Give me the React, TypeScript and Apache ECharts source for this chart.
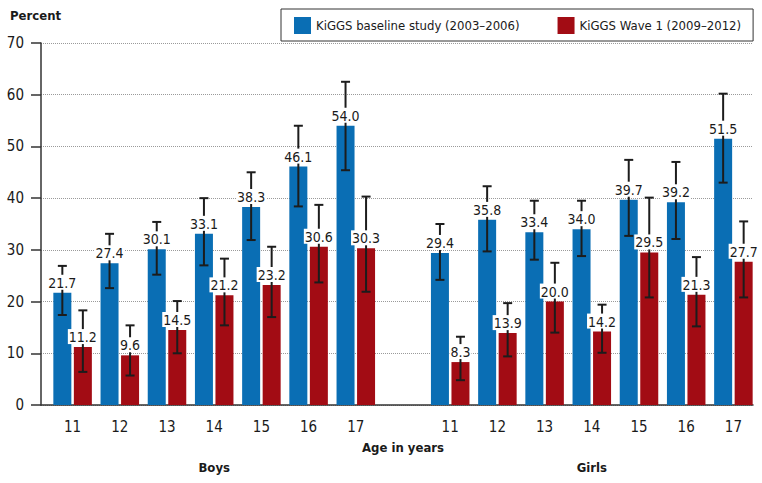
import React, { useEffect, useRef } from "react";
import * as echarts from "echarts";

const ages = ["11", "12", "13", "14", "15", "16", "17"];
const groups = ["Boys", "Girls"];
const seriesNames = ["KiGGS baseline study (2003–2006)", "KiGGS Wave 1 (2009–2012)"];

const baselineBoys = [21.7, 27.4, 30.1, 33.1, 38.3, 46.1, 54.0];
const baselineBoysLow = [17.4, 22.6, 25.2, 27.0, 31.9, 38.4, 45.4];
const baselineBoysHigh = [26.9, 33.1, 35.4, 40.0, 45.0, 54.0, 62.5];
const baselineGirls = [29.4, 35.8, 33.4, 34.0, 39.7, 39.2, 51.5];
const baselineGirlsLow = [24.2, 29.7, 28.1, 28.8, 32.7, 32.1, 43.0];
const baselineGirlsHigh = [35.0, 42.3, 39.5, 39.5, 47.4, 47.0, 60.2];

const wave1Boys = [11.2, 9.6, 14.5, 21.2, 23.2, 30.6, 30.3];
const wave1BoysLow = [6.4, 5.7, 10.0, 15.4, 17.0, 23.7, 21.9];
const wave1BoysHigh = [18.3, 15.4, 20.1, 28.3, 30.6, 38.7, 40.3];
const wave1Girls = [8.3, 13.9, 20.0, 14.2, 29.5, 21.3, 27.7];
const wave1GirlsLow = [4.8, 9.4, 14.0, 10.1, 20.8, 15.2, 20.8];
const wave1GirlsHigh = [13.2, 19.7, 27.5, 19.4, 40.1, 28.6, 35.5];

const yTicks = { min: 0, max: 70, interval: 10 };

const BLUE = "#0a6eb4";
const RED = "#a20c14";
const TEXT = "#1a1a1a";
const FONT = "'Liberation Sans Narrow', 'DejaVu Sans Condensed', 'Roboto Condensed', Roboto, sans-serif";
const BAR_W = 18;
const GAP_RATIO = 0.14;

export default function App() {
  const ref = useRef<HTMLDivElement>(null);

  useEffect(() => {
    document.body.style.margin = "0";
    if (!ref.current) return;
    const chart = echarts.init(ref.current, null, { renderer: "svg" });

    // 15 slots: boys ages, one empty slot, girls ages
    const ageLabels = [...ages, "", ...ages];
    const groupLabels = ageLabels.map(() => "");
    groupLabels[3] = groups[0];
    groupLabels[11] = groups[1];
    const slots = ageLabels.map((_, i) => "s" + i);

    const combine = (a: number[], b: number[]) => [...a, null, ...b];
    const blue = combine(baselineBoys, baselineGirls);
    const red = combine(wave1Boys, wave1Girls);
    const blueLow = combine(baselineBoysLow, baselineGirlsLow);
    const blueHigh = combine(baselineBoysHigh, baselineGirlsHigh);
    const redLow = combine(wave1BoysLow, wave1GirlsLow);
    const redHigh = combine(wave1BoysHigh, wave1GirlsHigh);

    const ciData = (vals: (number | null)[], lo: (number | null)[], hi: (number | null)[]) =>
      vals
        .map((v, i) => (v == null ? null : [i, v, lo[i], hi[i]]))
        .filter((d) => d != null);

    const shift = (BAR_W + BAR_W * GAP_RATIO) / 2;

    const makeRender = (dir: number) => (params: any, api: any) => {
      const idx = api.value(0);
      const val = api.value(1);
      const lo = api.value(2);
      const hi = api.value(3);
      const x = api.coord([idx, val])[0] + dir * shift;
      const yv = api.coord([idx, val])[1];
      const yl = api.coord([idx, lo])[1];
      const yh = api.coord([idx, hi])[1];
      const cap = 4.5;
      const ls = { stroke: "#1c1c1c", lineWidth: 2 };
      return {
        type: "group",
        children: [
          { type: "line", shape: { x1: x, y1: yl, x2: x, y2: yh }, style: ls },
          { type: "line", shape: { x1: x - cap, y1: yh, x2: x + cap, y2: yh }, style: ls },
          { type: "line", shape: { x1: x - cap, y1: yl, x2: x + cap, y2: yl }, style: ls },
          {
            type: "text",
            style: {
              text: val.toFixed(1),
              x: x,
              y: yv - 3,
              align: "center",
              verticalAlign: "bottom",
              fontSize: 14,
              fontFamily: FONT,
              fill: TEXT,
              backgroundColor: "#fff",
              padding: [1, 1, 0, 1],
            },
          },
        ],
      };
    };

    chart.setOption({
      animation: false,
      textStyle: { fontFamily: FONT, color: TEXT },
      grid: [
        { left: 41, right: 9, top: 43, bottom: 78, outerBoundsMode: "none", containLabel: false },
        { left: 49, right: 5, top: 43, bottom: 78, outerBoundsMode: "none", containLabel: false },
      ],
      legend: {
        data: seriesNames,
        left: 281,
        top: 9,
        padding: [8, 12, 7, 13],
        itemWidth: 17,
        itemHeight: 17,
        itemGap: 38,
        icon: "rect",
        borderColor: "#333",
        borderWidth: 1,
        textStyle: { fontSize: 13, fontFamily: FONT, color: TEXT },
      },
      graphic: [
        {
          type: "text",
          left: 10,
          top: 9,
          style: { text: "Percent", fontSize: 13, fontWeight: "bold", fontFamily: FONT, fill: TEXT },
        },
      ],
      xAxis: [
        {
          gridIndex: 0,
          type: "value",
          min: 0,
          max: 1,
          axisLine: { show: true, onZero: false, lineStyle: { color: "#333", width: 1.5 } },
          axisTick: { show: false },
          axisLabel: { show: false },
          splitLine: { show: false },
        },
        {
          gridIndex: 1,
          type: "category",
          position: "bottom",
          data: slots,
          axisLine: { show: false },
          axisTick: { show: false },
          axisLabel: {
            interval: 0,
            margin: 14,
            fontSize: 15,
            color: TEXT,
            fontFamily: FONT,
            formatter: (_: string, i: number) => ageLabels[i],
          },
          name: "Age in years",
          nameLocation: "middle",
          nameGap: 36,
          nameTextStyle: { fontSize: 13, fontWeight: "bold", color: TEXT, fontFamily: FONT },
        },
        {
          gridIndex: 1,
          type: "category",
          position: "bottom",
          offset: 0,
          data: slots,
          axisLine: { show: false },
          axisTick: { show: false },
          axisLabel: {
            interval: 0,
            margin: 56,
            fontSize: 13,
            fontWeight: "bold",
            color: TEXT,
            fontFamily: FONT,
            formatter: (_: string, i: number) => groupLabels[i],
          },
        },
      ],
      yAxis: [
        {
          gridIndex: 0,
          type: "value",
          ...yTicks,
          axisLine: { show: true, lineStyle: { color: "#333", width: 1.5 } },
          axisTick: { show: true, length: 10, lineStyle: { color: "#333", width: 1.5 } },
          axisLabel: { fontSize: 15, margin: 17, color: TEXT, fontFamily: FONT },
          splitLine: { show: true, lineStyle: { color: "#9a9a9a", type: [1, 1], width: 1 } },
        },
        {
          gridIndex: 1,
          type: "value",
          ...yTicks,
          show: false,
          splitLine: { show: false },
        },
      ],
      series: [
        {
          name: seriesNames[0],
          type: "bar",
          xAxisIndex: 1,
          yAxisIndex: 1,
          data: blue,
          barWidth: BAR_W,
          barGap: GAP_RATIO * 100 + "%",
          itemStyle: { color: BLUE },
        },
        {
          name: seriesNames[1],
          type: "bar",
          xAxisIndex: 1,
          yAxisIndex: 1,
          data: red,
          barWidth: BAR_W,
          barGap: GAP_RATIO * 100 + "%",
          itemStyle: { color: RED },
        },
        {
          name: "ci-baseline",
          type: "custom",
          xAxisIndex: 1,
          yAxisIndex: 1,
          z: 5,
          encode: { x: 0, y: [1, 2, 3] },
          data: ciData(blue, blueLow, blueHigh),
          renderItem: makeRender(-1),
        },
        {
          name: "ci-wave1",
          type: "custom",
          xAxisIndex: 1,
          yAxisIndex: 1,
          z: 5,
          encode: { x: 0, y: [1, 2, 3] },
          data: ciData(red, redLow, redHigh),
          renderItem: makeRender(1),
        },
      ],
    });

    return () => chart.dispose();
  }, []);

  return <div ref={ref} style={{ width: 762, height: 483 }} />;
}
